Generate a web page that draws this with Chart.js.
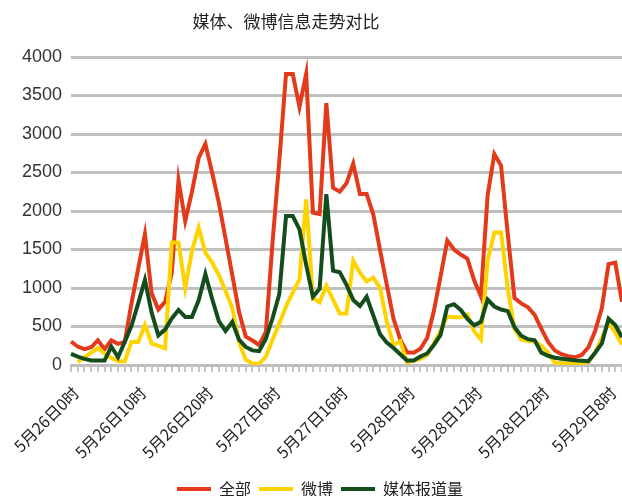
<!DOCTYPE html>
<html lang="zh-CN">
<head>
<meta charset="utf-8">
<title>媒体、微博信息走势对比</title>
<script src="https://cdn.jsdelivr.net/npm/chart.js@4.4.1/dist/chart.umd.min.js"></script>
<style>
  html, body { margin: 0; padding: 0; background: #fff; }
  #wrap { width: 622px; height: 496px; }
</style>
</head>
<body>
<div id="wrap"><canvas id="trendChart" width="622" height="496"></canvas></div>
<script>
const chartTitle  = "媒体、微博信息走势对比";
const seriesNames = ["全部", "微博", "媒体报道量"];

// hourly categories, 5月26日0时 onwards
const hourLabels = [];
for (let i = 0; i < 83; i++) hourLabels.push(`5月${26 + Math.floor(i / 24)}日${i % 24}时`);

const tickLabels = ["5月26日0时", "5月26日10时", "5月26日20时", "5月27日6时", "5月27日16时",
                    "5月28日2时", "5月28日12时", "5月28日22时", "5月29日8时"];

const allValues = [
  305, 240, 205, 230, 320, 205, 320, 275, 300, 800,
  1250, 1700, 930, 720, 820, 1200, 2400, 1870, 2250, 2690,
  2870, 2500, 2110, 1640, 1170, 690, 370, 318, 260, 430,
  1600, 2650, 3780, 3780, 3350, 3780, 1980, 1960, 3400, 2300,
  2250, 2360, 2615, 2220, 2220, 1950, 1490, 1040, 600, 330,
  165, 160, 210, 350, 700, 1150, 1615, 1500, 1435, 1380,
  1100, 890, 2200, 2740, 2590, 1700, 870, 800, 750, 650,
  470, 300, 190, 140, 115, 100, 130, 230, 440, 740,
  1310, 1330, 820
];
const weiboValues = [
  null, 40, 100, 160, 220, 150, 90, 50, 50, 300,
  300, 520, 280, 250, 215, 1590, 1590, 1000, 1480, 1785,
  1460, 1330, 1170, 960, 740, 300, 70, 20, 15, 110,
  330, 540, 760, 940, 1110, 2150, 870, 815, 1030, 850,
  670, 670, 1355, 1200, 1085, 1135, 1000, 560, 260, 310,
  35, 55, 80, 130, 280, 450, 630, 620, 620, 655,
  440, 330, 1350, 1720, 1720, 990, 470, 330, 310, 305,
  250, 160, 30, 25, 20, 20, 25, 40, 160, 350,
  550, 420, 265
];
const mediaValues = [
  145, 110, 80, 60, 60, 60, 240, 100, 300, 510,
  800, 1105, 680, 385, 460, 605, 715, 625, 625, 840,
  1180, 860, 570, 440, 560, 330, 235, 190, 180, 340,
  610, 920, 1935, 1935, 1760, 1300, 885, 990, 2220, 1225,
  1205, 1040, 845, 765, 885, 640, 400, 290, 220, 140,
  60, 60, 110, 150, 260, 390, 760, 790, 715, 600,
  515, 560, 850, 760, 720, 700, 490, 380, 335, 320,
  160, 120, 95, 80, 70, 60, 55, 50, 160, 280,
  600, 520, 360
];

const yMax = 4000;
const yStep = 500;
const lineColors = ["#E4391B", "#FFD300", "#134D1C"];

const cjkFont = '"Noto Sans CJK SC", "Noto Sans", sans-serif';

// title sits left of centre in the original, so draw it ourselves
const titlePlugin = {
  id: "sheetTitle",
  afterLayout(chart) {
    // legend in the original is a little right of the canvas centre
    const lg = chart.legend;
    if (lg) { lg.left += 9; lg.right += 9; }
  },
  afterDraw(chart) {
    const ctx = chart.ctx;
    ctx.save();
    ctx.font = `17px ${cjkFont}`;
    ctx.fillStyle = "#1f1f1f";
    ctx.textAlign = "center";
    ctx.textBaseline = "middle";
    ctx.fillText(chartTitle, 286, 22);
    ctx.restore();
  }
};

function makeSet(i, data) {
  return {
    label: seriesNames[i], data,
    borderColor: lineColors[i], backgroundColor: lineColors[i],
    borderWidth: 4, pointRadius: 0, tension: 0,
    spanGaps: false, order: 2 - i
  };
}

new Chart(document.getElementById("trendChart").getContext("2d"), {
  type: "line",
  data: {
    labels: hourLabels,
    datasets: [makeSet(0, allValues), makeSet(1, weiboValues), makeSet(2, mediaValues)]
  },
  plugins: [titlePlugin],
  options: {
    responsive: false, animation: false,
    layout: { padding: { top: 57, right: 0, bottom: -11, left: 0 } },
    plugins: {
      title: { display: false },
      tooltip: { enabled: false },
      legend: {
        position: "bottom",
        labels: {
          usePointStyle: true, pointStyle: "line", pointStyleWidth: 34,
          padding: 8, color: "#222", font: { family: cjkFont, size: 16 },
          sort: (a, b) => a.datasetIndex - b.datasetIndex
        }
      }
    },
    scales: {
      x: {
        grid: { drawOnChartArea: false, drawTicks: true, tickLength: 7, color: "#c8c8c8", lineWidth: 2 },
        border: { display: true, color: "#bfbfbf", width: 3 },
        ticks: {
          autoSkip: false, maxRotation: 45, minRotation: 45, padding: 11, labelOffset: 5,
          color: "#222", font: { family: cjkFont, size: 16 },
          callback: (v, i) => tickLabels.includes(hourLabels[i]) ? hourLabels[i] : ""
        },
        afterFit: s => { s.height = 108; s.paddingLeft = 0; s.paddingRight = 0; }
      },
      y: {
        min: 0, max: yMax,
        ticks: {
          stepSize: yStep, padding: 9, color: "#333",
          font: { family: '"Liberation Sans", Arial, sans-serif', size: 18 },
          callback: v => String(v)
        },
        grid: { color: "#c0c0c0", lineWidth: 3, drawTicks: false },
        border: { display: false },
        afterFit: s => { s.width = 71; }
      }
    }
  }
});
</script>
</body>
</html>
